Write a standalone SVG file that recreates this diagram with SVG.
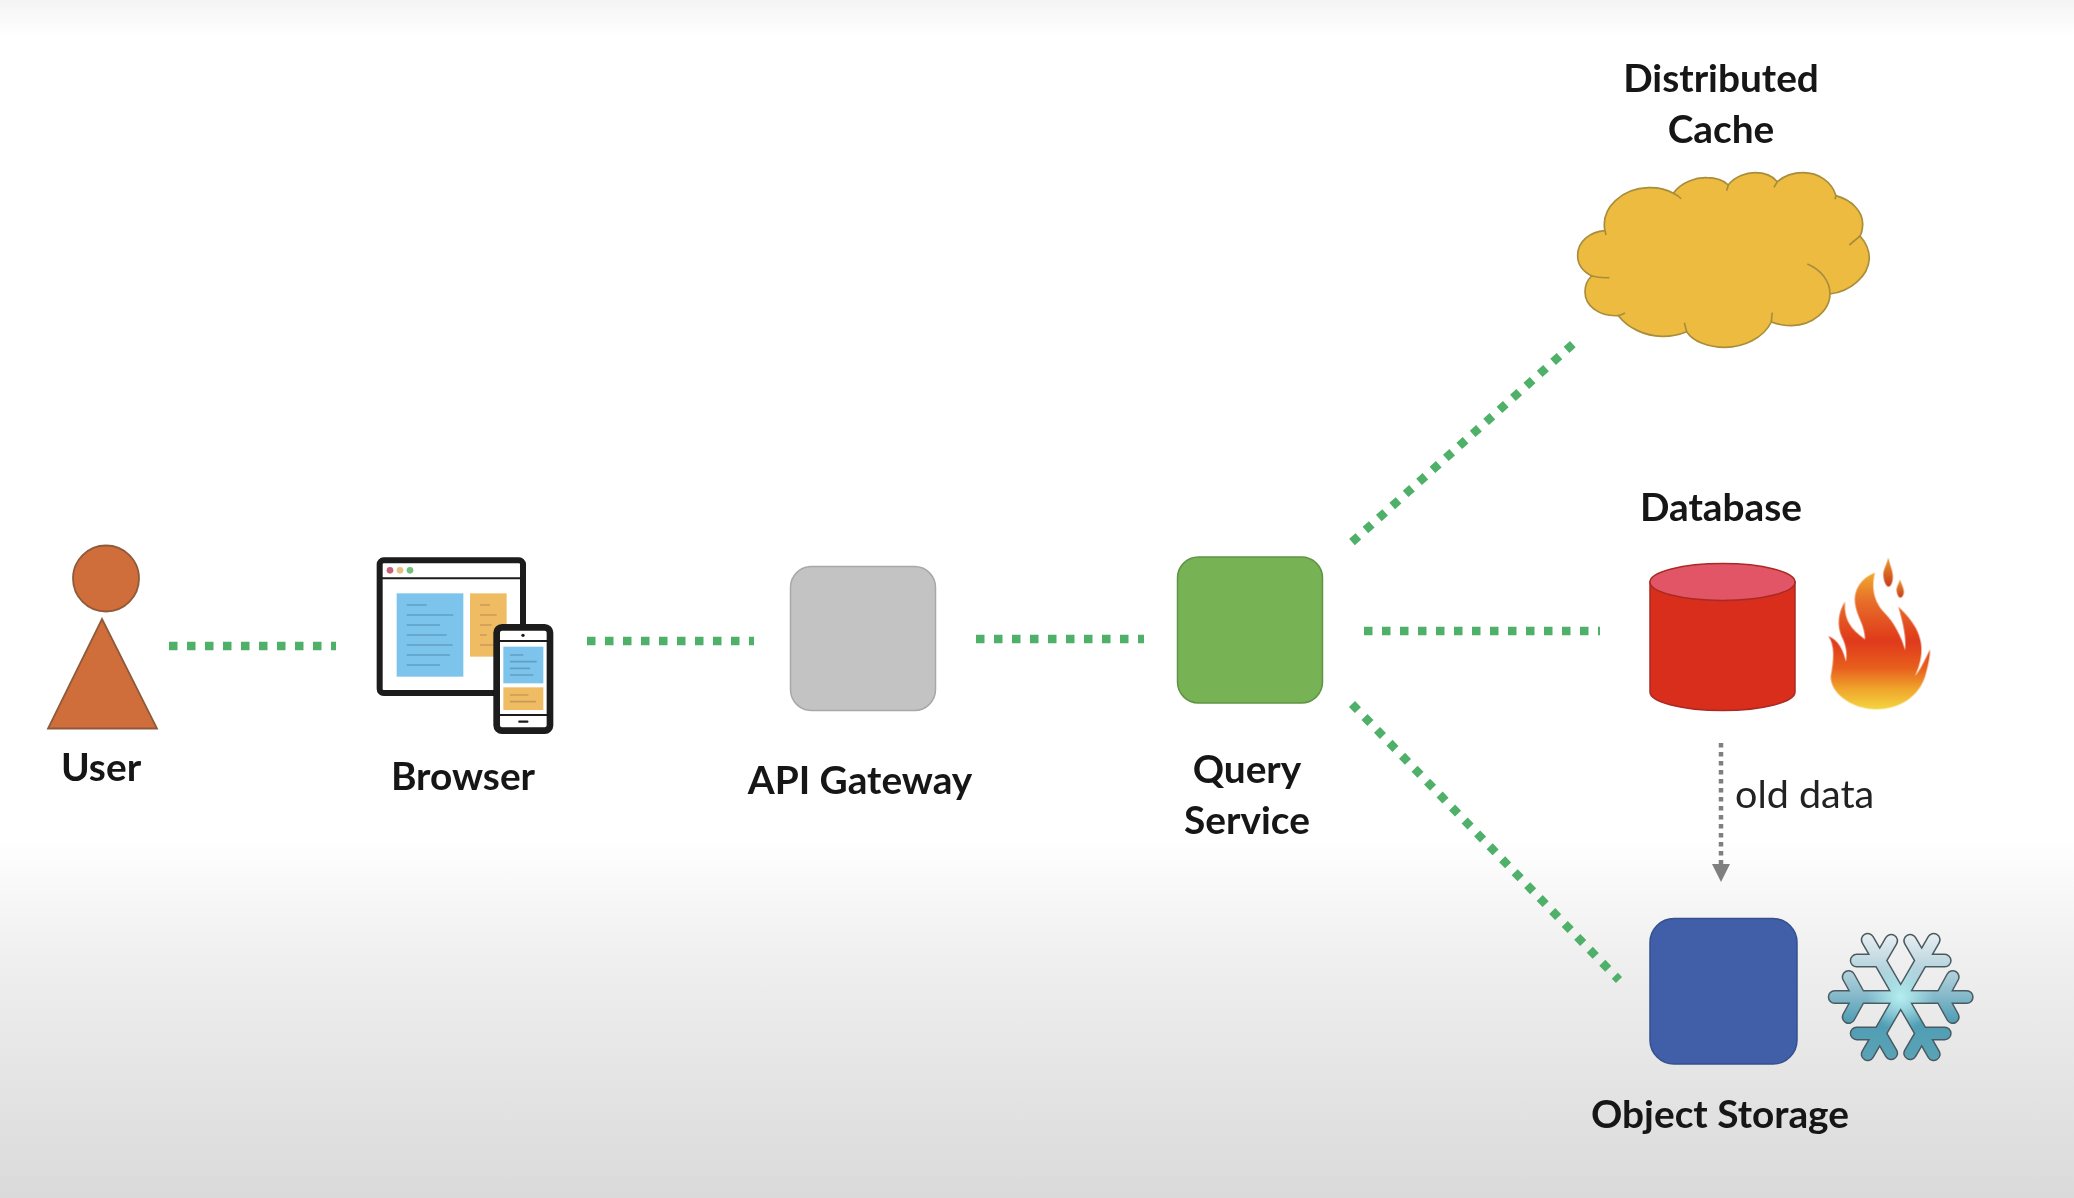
<svg xmlns="http://www.w3.org/2000/svg" width="2074" height="1198" viewBox="0 0 2074 1198">
<style>
.lbl{font-family:"Lato","Carlito","Liberation Sans",sans-serif;font-weight:700;font-size:38.800px;fill:#141414;text-anchor:middle}
.old{font-family:"Lato","Carlito","Liberation Sans",sans-serif;font-size:39.500px;fill:#222}
.green{fill:none;stroke:#4fb069;stroke-width:8.500;stroke-dasharray:8.500 9.500}
.k{fill:none;stroke:#1a1a1a;stroke-linecap:round}
.bl{stroke:#5f9fc4;stroke-width:5;fill:none}
.ol{stroke:#c79a55;stroke-width:5;fill:none}
</style>
<defs>
<filter id="soft" filterUnits="userSpaceOnUse" x="0" y="0" width="2074" height="1198"><feGaussianBlur stdDeviation="0.7"/></filter>
<linearGradient id="bg" x1="0" y1="0" x2="0" y2="1">
<stop offset="0" stop-color="#f4f4f4"/><stop offset="0.03" stop-color="#fff"/><stop offset="0.7" stop-color="#fff"/><stop offset="0.8" stop-color="#efefef"/><stop offset="1" stop-color="#dadada"/>
</linearGradient>
<linearGradient id="fl" gradientUnits="userSpaceOnUse" x1="0" y1="68" x2="0" y2="478">
<stop offset="0" stop-color="#f0ab30"/><stop offset="0.2" stop-color="#e8702a"/><stop offset="0.5" stop-color="#e03a1c"/><stop offset="0.7" stop-color="#e8601f"/><stop offset="0.85" stop-color="#f0a52c"/><stop offset="1" stop-color="#f5d540"/>
</linearGradient>
<linearGradient id="dr" x1="0" y1="0" x2="0" y2="1">
<stop offset="0" stop-color="#eb9a30"/><stop offset="1" stop-color="#c93a1c"/>
</linearGradient>
<linearGradient id="sn" gradientUnits="userSpaceOnUse" x1="0" y1="-64" x2="0" y2="64">
<stop offset="0" stop-color="#eaeff2"/><stop offset="0.35" stop-color="#a8ccd8"/><stop offset="0.7" stop-color="#4f9db4"/><stop offset="1" stop-color="#5ba3b5"/>
</linearGradient>
<radialGradient id="gl" gradientUnits="userSpaceOnUse" cx="0" cy="0" r="34">
<stop offset="0" stop-color="#b4eef0" stop-opacity="1"/><stop offset="1" stop-color="#b4eef0" stop-opacity="0"/>
</radialGradient>
<path id="snp" d="M-66 0H66M-33 -57.200L33 57.200M33 -57.200L-33 57.200M52 20L41 0L52 -20M-52 20L-41 0L-52 -20M44 36.400L21 36.400L9.500 56.300M-44 36.400L-21 36.400L-9.500 56.300M44 -36.400L21 -36.400L9.500 -56.300M-44 -36.400L-21 -36.400L-9.500 -56.300"/>
</defs>
<rect id="background" width="2074" height="1198" fill="url(#bg)"/>
<g filter="url(#soft)">
<g id="connectors">
<path class="green" d="M169 646H336"/>
<path class="green" d="M587 641H754"/>
<path class="green" d="M976 639H1144"/>
<path class="green" d="M1364 631H1600"/>
<path class="green" d="M1352 542L1573 344"/>
<path class="green" d="M1352 704L1619 980"/>
<path d="M1721 743V866" fill="none" stroke="#7f7f7f" stroke-width="4.500" stroke-dasharray="4.500 4.500"/>
<path d="M1712 864H1730L1721 882Z" fill="#7f7f7f"/>
</g>
<g id="user">
<circle cx="106" cy="578.500" r="33" fill="#cf6e3a" stroke="#8f5a3a" stroke-width="1.800"/>
<path d="M102 619L157 728.500H48Z" fill="#cf6e3a" stroke="#8f5a3a" stroke-width="1.800"/>
<text class="lbl" x="101" y="781">User</text>
</g>
<g id="browser">
<g transform="translate(350 530) scale(.33333)">
<rect x="89" y="91" width="430" height="398" rx="12" fill="#fff" stroke="#1a1a1a" stroke-width="18"/>
<path d="M96 145H512" stroke="#1a1a1a" stroke-width="6"/>
<circle cx="120" cy="121" r="10" fill="#c8607a"/><circle cx="150" cy="121" r="10" fill="#e8c080"/><circle cx="180" cy="121" r="10" fill="#70c080"/>
<rect x="140" y="190" width="200" height="250" fill="#7cc4ec"/>
<rect x="360" y="190" width="110" height="190" fill="#f0bc64"/>
<path class="bl" d="M170 225H230M170 255H310M170 285H270M170 315H290M170 345H308M170 375H300M170 405H270"/>
<path class="ol" d="M390 225H420M390 255H440M390 285H425M390 315H410M390 345H430"/>
<rect x="440" y="292" width="160" height="310" rx="16" fill="#fff" stroke="#1a1a1a" stroke-width="20"/>
<path d="M448 333H592M448 555H592" stroke="#1a1a1a" stroke-width="6"/>
<circle cx="519" cy="316" r="5" fill="#1a1a1a"/>
<rect x="460" y="350" width="120" height="110" fill="#7cc4ec"/>
<rect x="460" y="472" width="120" height="68" fill="#f0bc64"/>
<path class="bl" d="M480 375H520M480 395H560M480 415H540M480 435H550"/>
<path class="ol" d="M480 495H535M480 515H558"/>
<path class="k" stroke-width="7" d="M508 575H532"/>
</g>
<text class="lbl" x="463" y="790">Browser</text>
</g>
<g id="api-gateway">
<rect x="790.500" y="566.500" width="145" height="144" rx="21" fill="#c3c3c3" stroke="#a8a8a8" stroke-width="1.500"/>
<text class="lbl" x="860" y="794">API Gateway</text>
</g>
<g id="query-service">
<rect x="1177.500" y="557" width="145" height="146" rx="21" fill="#77b255" stroke="#5f9444" stroke-width="1.500"/>
<text class="lbl" x="1247" y="783">Query</text>
<text class="lbl" x="1247" y="834">Service</text>
</g>
<g id="distributed-cache">
<text class="lbl" x="1721" y="92">Distributed</text>
<text class="lbl" x="1721" y="143">Cache</text>
<g transform="translate(1550 150) scale(.33333)" fill="none" stroke="#a88d3c" stroke-width="5">
<path fill="#ecbb3f" d="M165 245C150 170 220 115 295 113C325 112 350 118 370 130C395 95 440 82 470 83C495 83 520 90 535 105C555 78 590 68 615 68C640 68 665 75 682 95C705 75 735 68 760 68C805 68 845 95 858 137C905 150 940 185 938 225C937 240 935 250 930 258C950 280 958 305 958 325C955 380 900 425 840 432C840 480 790 525 725 527C700 527 680 522 664 516C640 565 580 592 525 592C475 592 430 575 410 545C385 555 360 560 335 559C285 558 235 535 205 497C150 500 105 470 105 425C105 405 112 390 125 378C100 365 82 345 83 315C83 275 120 245 165 242Z"/>
<path d="M165 242L168 255M370 130C380 135 388 140 393 146M535 105L530 122M682 95L672 112M858 137L855 148M930 258L898 285M772 342C815 360 840 395 840 432M664 516C665 505 665 498 667 488M410 545C407 535 405 525 403 518M205 497C212 495 218 492 225 489M125 378C140 382 160 384 178 383"/>
</g>
</g>
<g id="database">
<text class="lbl" x="1721" y="521">Database</text>
<path d="M1650 582V692C1650 702 1682 710.500 1722.500 710.500S1795 702 1795 692V582Z" fill="#d92d1f" stroke="#a82a22" stroke-width="1.500"/>
<ellipse cx="1722.500" cy="582" rx="72.500" ry="18.500" fill="#e25566" stroke="#a82a22" stroke-width="1.500"/>
<g transform="translate(1810 550) scale(.33333)">
<path fill="url(#fl)" d="M195 68C150 85 130 125 135 160C140 200 165 225 165 268C135 245 100 220 105 155C85 185 80 225 95 260C108 285 112 310 108 335C100 300 85 270 55 258C75 285 72 330 62 380C62 430 125 478 200 478C270 478 325 440 345 380C352 355 360 325 360 298C345 330 330 360 315 378C340 325 345 270 305 215C295 200 280 185 265 170C278 215 290 265 285 300C275 260 250 215 225 190C200 165 180 125 195 68Z"/>
<path fill="url(#dr)" d="M235 22C230 45 218 60 220 78C222 98 230 110 236 110C245 108 250 90 248 72C246 55 238 42 235 22Z"/>
<path fill="url(#dr)" d="M270 88C266 102 258 112 260 124C262 136 267 143 271 143C279 141 283 130 281 120C279 108 273 100 270 88Z"/>
</g>
</g>
<g id="old-data-label"><text class="old" x="1735" y="808">old data</text></g>
<g id="object-storage">
<rect x="1650" y="918.500" width="147" height="145.500" rx="24" fill="#3f5fa8" stroke="#34508f" stroke-width="1.500"/>
<text class="lbl" x="1720" y="1128">Object Storage</text>
<g transform="translate(1900.700 997)" fill="none" stroke-linecap="round" stroke-linejoin="round">
<use href="#snp" stroke="#4a5a60" stroke-width="14"/>
<use href="#snp" stroke="url(#sn)" stroke-width="11"/>
<use href="#snp" stroke="url(#gl)" stroke-width="11"/>
</g>
</g>
</g>
</svg>
